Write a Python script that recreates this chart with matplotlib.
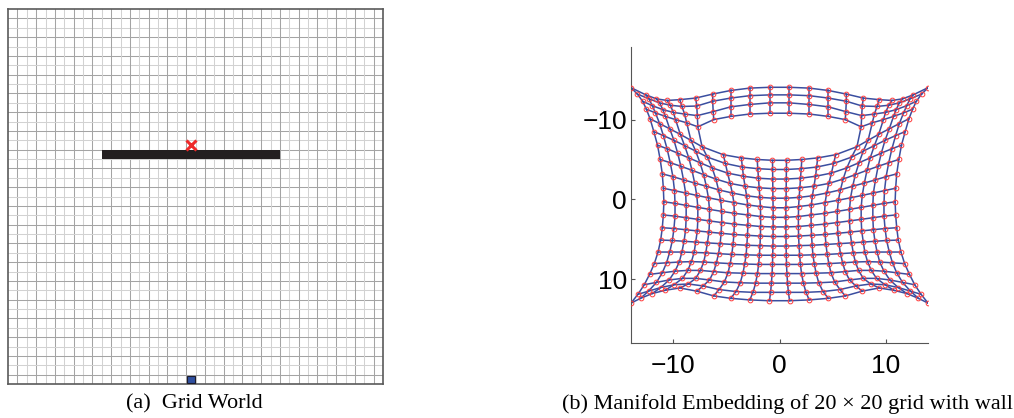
import matplotlib.pyplot as plt
from matplotlib.patches import Rectangle

# ---- (a) grid world ----
n_cells = 40
wall_row = 15
wall_cols = (10, 29)          # first col, one past last col
goal_cell = (19, 14)          # (col, row) of the red cross
agent_cell = (19, 39)         # (col, row) of the blue square

# ---- (b) manifold embedding, 20 x 20 nodes (row i = top..bottom, col j = left..right) ----
mesh_x = [
    [-14.0, -12.6, -11.6, -10.6, -9.4, -7.9, -6.3, -4.6, -2.8, -0.9, 0.9, 2.8, 4.6, 6.3, 7.9, 9.4, 10.6, 11.6, 12.6, 14.0],
    [-13.4, -12.3, -11.3, -10.3, -9.2, -7.8, -6.3, -4.6, -2.8, -0.9, 0.9, 2.8, 4.6, 6.3, 7.8, 9.2, 10.3, 11.3, 12.3, 13.4],
    [-12.9, -12.0, -11.0, -10.0, -8.95, -7.75, -6.25, -4.6, -2.8, -0.9, 0.9, 2.8, 4.6, 6.25, 7.75, 8.95, 10.0, 11.0, 12.0, 12.9],
    [-12.55, -11.7, -10.75, -9.8, -8.75, -7.7, -6.2, -4.6, -2.8, -0.9, 0.9, 2.8, 4.6, 6.2, 7.7, 8.75, 9.8, 10.75, 11.7, 12.55],
    [-12.2, -11.3, -10.35, -9.35, -8.35, -7.3, -5.3, -3.6, -2.1, -0.66, 0.66, 2.1, 3.6, 5.3, 7.3, 8.35, 9.35, 10.35, 11.3, 12.2],
    [-11.85, -10.95, -9.95, -8.95, -7.9, -6.8, -5.1, -3.5, -2.05, -0.65, 0.65, 2.05, 3.5, 5.1, 6.8, 7.9, 8.95, 9.95, 10.95, 11.85],
    [-11.5, -10.6, -9.6, -8.55, -7.5, -6.35, -4.9, -3.4, -1.98, -0.64, 0.64, 1.98, 3.4, 4.9, 6.35, 7.5, 8.55, 9.6, 10.6, 11.5],
    [-11.25, -10.3, -9.3, -8.25, -7.15, -6.0, -4.65, -3.25, -1.92, -0.63, 0.63, 1.92, 3.25, 4.65, 6.0, 7.15, 8.25, 9.3, 10.3, 11.25],
    [-11.05, -10.05, -9.05, -8.0, -6.9, -5.75, -4.45, -3.1, -1.85, -0.62, 0.62, 1.85, 3.1, 4.45, 5.75, 6.9, 8.0, 9.05, 10.05, 11.05],
    [-10.95, -9.9, -8.85, -7.8, -6.7, -5.55, -4.3, -3.0, -1.8, -0.6, 0.6, 1.8, 3.0, 4.3, 5.55, 6.7, 7.8, 8.85, 9.9, 10.95],
    [-10.9, -9.85, -8.8, -7.7, -6.6, -5.45, -4.25, -2.98, -1.78, -0.6, 0.6, 1.78, 2.98, 4.25, 5.45, 6.6, 7.7, 8.8, 9.85, 10.9],
    [-10.95, -9.85, -8.8, -7.7, -6.6, -5.45, -4.25, -2.98, -1.78, -0.6, 0.6, 1.78, 2.98, 4.25, 5.45, 6.6, 7.7, 8.8, 9.85, 10.95],
    [-11.05, -9.95, -8.85, -7.75, -6.65, -5.5, -4.3, -3.02, -1.8, -0.61, 0.61, 1.8, 3.02, 4.3, 5.5, 6.65, 7.75, 8.85, 9.95, 11.05],
    [-11.2, -10.1, -9.0, -7.9, -6.8, -5.6, -4.38, -3.08, -1.84, -0.62, 0.62, 1.84, 3.08, 4.38, 5.6, 6.8, 7.9, 9.0, 10.1, 11.2],
    [-11.45, -10.35, -9.2, -8.05, -6.95, -5.75, -4.5, -3.15, -1.9, -0.64, 0.64, 1.9, 3.15, 4.5, 5.75, 6.95, 8.05, 9.2, 10.35, 11.45],
    [-11.8, -10.65, -9.45, -8.3, -7.15, -5.95, -4.65, -3.28, -1.97, -0.66, 0.66, 1.97, 3.28, 4.65, 5.95, 7.15, 8.3, 9.45, 10.65, 11.8],
    [-12.25, -11.05, -9.85, -8.65, -7.45, -6.2, -4.85, -3.45, -2.08, -0.7, 0.7, 2.08, 3.45, 4.85, 6.2, 7.45, 8.65, 9.85, 11.05, 12.25],
    [-12.75, -11.6, -10.4, -9.15, -7.9, -6.6, -5.2, -3.7, -2.25, -0.76, 0.76, 2.25, 3.7, 5.2, 6.6, 7.9, 9.15, 10.4, 11.6, 12.75],
    [-13.35, -12.35, -11.2, -9.95, -8.6, -7.2, -5.7, -4.1, -2.5, -0.84, 0.84, 2.5, 4.1, 5.7, 7.2, 8.6, 9.95, 11.2, 12.35, 13.35],
    [-14.0, -13.1, -12.0, -10.8, -9.4, -7.8, -6.2, -4.6, -2.8, -0.95, 0.95, 2.8, 4.6, 6.2, 7.8, 9.4, 10.8, 12.0, 13.1, 14.0],
]
mesh_y = [
    [-14.0, -13.1, -12.6, -12.4, -12.5, -12.7, -13.2, -13.65, -13.95, -14.05, -14.05, -13.95, -13.65, -13.2, -12.7, -12.5, -12.4, -12.6, -13.1, -14.0],
    [-13.2, -12.6, -12.1, -11.8, -11.65, -11.7, -12.3, -12.7, -13.0, -13.1, -13.1, -13.0, -12.7, -12.3, -11.7, -11.65, -11.8, -12.1, -12.6, -13.2],
    [-12.3, -11.75, -11.25, -10.9, -10.7, -10.5, -11.0, -11.6, -11.9, -12.1, -12.1, -11.9, -11.6, -11.0, -10.5, -10.7, -10.9, -11.25, -11.75, -12.3],
    [-11.3, -10.85, -10.4, -10.0, -9.6, -9.1, -10.0, -10.4, -10.7, -10.8, -10.8, -10.7, -10.4, -10.0, -9.1, -9.6, -10.0, -10.4, -10.85, -11.3],
    [-10.1, -9.5, -8.85, -8.15, -7.4, -6.6, -5.6, -5.2, -5.0, -4.9, -4.9, -5.0, -5.2, -5.6, -6.6, -7.4, -8.15, -8.85, -9.5, -10.1],
    [-8.5, -8.0, -7.4, -6.75, -6.05, -5.3, -4.5, -4.05, -3.85, -3.75, -3.75, -3.85, -4.05, -4.5, -5.3, -6.05, -6.75, -7.4, -8.0, -8.5],
    [-6.8, -6.35, -5.8, -5.2, -4.6, -3.95, -3.3, -2.9, -2.65, -2.55, -2.55, -2.65, -2.9, -3.3, -3.95, -4.6, -5.2, -5.8, -6.35, -6.8],
    [-5.0, -4.6, -4.15, -3.65, -3.1, -2.55, -2.0, -1.65, -1.45, -1.35, -1.35, -1.45, -1.65, -2.0, -2.55, -3.1, -3.65, -4.15, -4.6, -5.0],
    [-3.2, -2.85, -2.45, -2.05, -1.65, -1.2, -0.8, -0.45, -0.25, -0.15, -0.15, -0.25, -0.45, -0.8, -1.2, -1.65, -2.05, -2.45, -2.85, -3.2],
    [-1.4, -1.1, -0.8, -0.5, -0.2, 0.1, 0.4, 0.7, 0.9, 1.05, 1.05, 0.9, 0.7, 0.4, 0.1, -0.2, -0.5, -0.8, -1.1, -1.4],
    [0.3, 0.5, 0.75, 1.0, 1.25, 1.5, 1.75, 1.95, 2.15, 2.25, 2.25, 2.15, 1.95, 1.75, 1.5, 1.25, 1.0, 0.75, 0.5, 0.3],
    [1.95, 2.1, 2.3, 2.5, 2.7, 2.9, 3.1, 3.25, 3.4, 3.45, 3.45, 3.4, 3.25, 3.1, 2.9, 2.7, 2.5, 2.3, 2.1, 1.95],
    [3.55, 3.65, 3.8, 3.95, 4.1, 4.25, 4.4, 4.5, 4.6, 4.65, 4.65, 4.6, 4.5, 4.4, 4.25, 4.1, 3.95, 3.8, 3.65, 3.55],
    [5.1, 5.15, 5.25, 5.35, 5.45, 5.55, 5.65, 5.75, 5.8, 5.85, 5.85, 5.8, 5.75, 5.65, 5.55, 5.45, 5.35, 5.25, 5.15, 5.1],
    [6.6, 6.6, 6.6, 6.65, 6.7, 6.8, 6.9, 6.95, 7.0, 7.0, 7.0, 7.0, 6.95, 6.9, 6.8, 6.7, 6.65, 6.6, 6.6, 6.6],
    [8.05, 7.95, 7.85, 7.8, 7.85, 7.95, 8.05, 8.1, 8.15, 8.15, 8.15, 8.15, 8.1, 8.05, 7.95, 7.85, 7.8, 7.85, 7.95, 8.05],
    [9.4, 9.2, 9.0, 8.9, 8.9, 9.05, 9.2, 9.25, 9.3, 9.3, 9.3, 9.3, 9.25, 9.2, 9.05, 8.9, 8.9, 9.0, 9.2, 9.4],
    [10.7, 10.4, 10.1, 9.9, 9.9, 10.1, 10.35, 10.45, 10.5, 10.5, 10.5, 10.5, 10.45, 10.35, 10.1, 9.9, 9.9, 10.1, 10.4, 10.7],
    [11.9, 11.5, 11.05, 10.7, 10.6, 10.85, 11.3, 11.55, 11.65, 11.65, 11.65, 11.65, 11.55, 11.3, 10.85, 10.6, 10.7, 11.05, 11.5, 11.9],
    [13.0, 12.4, 11.8, 11.4, 11.1, 11.5, 12.1, 12.4, 12.6, 12.7, 12.7, 12.6, 12.4, 12.1, 11.5, 11.1, 11.4, 11.8, 12.4, 13.0],
]
wall_gap_row = 3              # no edge between this row and the next ...
wall_gap_cols = range(6, 14)  # ... for these columns

fig = plt.figure(figsize=(10.14, 4.18), dpi=100)
serif = ["Liberation Serif", "DejaVu Serif"]

# ---------------- left panel ----------------
ax1 = fig.add_axes([8 / 1014, 1 - 384 / 418, 375 / 1014, 375 / 418])
for k in range(1, n_cells):
    c = "#a4a4a4" if k % 2 else "#d2d2d2"
    ax1.axvline(k, color=c, lw=0.75, zorder=1)
    ax1.axhline(k, color=c, lw=0.75, zorder=1)
ax1.add_patch(Rectangle((wall_cols[0], wall_row), wall_cols[1] - wall_cols[0], 1,
                        facecolor="#231f20", edgecolor="none", zorder=3))
ax1.plot(goal_cell[0] + 0.5, goal_cell[1] + 0.5, marker="x", color="#ee2a2a",
         markersize=7, markeredgewidth=2.2, zorder=4)
ax1.add_patch(Rectangle((agent_cell[0] + 0.1, agent_cell[1] + 0.1), 0.8, 0.8,
                        facecolor="#2f4f9f", edgecolor="#1a1a2a", lw=0.8, zorder=4))
ax1.set_xlim(0, n_cells)
ax1.set_ylim(n_cells, 0)
ax1.set_xticks([])
ax1.set_yticks([])
for s in ax1.spines.values():
    s.set_color("#5a5a5a")
    s.set_linewidth(1.2)
fig.text(194 / 1014, 1 - 404 / 418, "(a)\u2002Grid World", ha="center", va="center",
         fontsize=16, family=serif)

# ---------------- right panel ----------------
ax2 = fig.add_axes([631 / 1014, 1 - 343 / 418, 297 / 1014, 296 / 418])
line_kw = dict(color="#3a4ea0", lw=1.1, zorder=2)
n_rows = len(mesh_x)
n_cols = len(mesh_x[0])
for i in range(n_rows):
    ax2.plot(mesh_x[i], mesh_y[i], **line_kw)
for j in range(n_cols):
    col_x = [mesh_x[i][j] for i in range(n_rows)]
    col_y = [mesh_y[i][j] for i in range(n_rows)]
    if j in wall_gap_cols:
        ax2.plot(col_x[:wall_gap_row + 1], col_y[:wall_gap_row + 1], **line_kw)
        ax2.plot(col_x[wall_gap_row + 1:], col_y[wall_gap_row + 1:], **line_kw)
    else:
        ax2.plot(col_x, col_y, **line_kw)
all_x = [v for row in mesh_x for v in row]
all_y = [v for row in mesh_y for v in row]
ax2.plot(all_x, all_y, ls="none", marker="o", markersize=3.4, markerfacecolor="none",
         markeredgecolor="#ff3b3b", markeredgewidth=0.7, zorder=3)

ax2.set_xlim(-14, 14)
ax2.set_ylim(18, -19.1)
ax2.set_xticks([-10, 0, 10])
ax2.set_yticks([-10, 0, 10])
ax2.set_xticklabels(["\u221210", "0", "10"])
ax2.set_yticklabels(["\u221210", "0", "10"])
ax2.tick_params(direction="in", length=3, width=0.8, color="#555555", labelsize=19)
ax2.tick_params(axis="x", pad=8)
ax2.tick_params(axis="y", pad=3)
for lab in ax2.get_xticklabels() + ax2.get_yticklabels():
    lab.set_family(["Liberation Sans", "DejaVu Sans"])
ax2.spines["top"].set_visible(False)
ax2.spines["right"].set_visible(False)
ax2.spines["left"].set_color("#555555")
ax2.spines["bottom"].set_color("#555555")
fig.text(787 / 1014, 1 - 404 / 418, "(b) Manifold Embedding of 20 \u00d7 20 grid with wall",
         ha="center", va="center", fontsize=16, family=serif)

fig.savefig("out.png", dpi=100)
